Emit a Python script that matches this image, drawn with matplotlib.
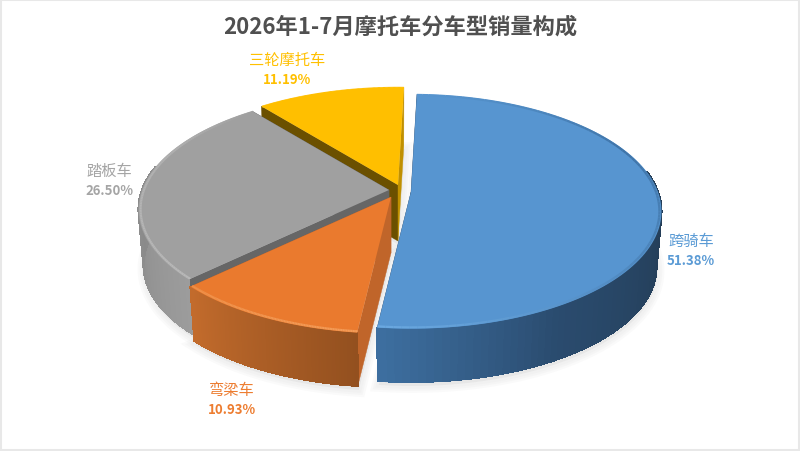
import numpy as np
import matplotlib
matplotlib.use('Agg')
import matplotlib.pyplot as plt
from matplotlib.colors import to_rgb
from matplotlib.patches import Rectangle

plt.rcParams['font.family'] = ['Noto Sans CJK SC', 'DejaVu Sans']

# dados do gráfico
categorias = ['跨骑车', '弯梁车', '踏板车', '三轮摩托车']
valores = [51.38, 10.93, 26.50, 11.19]
rotulos = ['51.38%', '10.93%', '26.50%', '11.19%']
titulo = '2026年1-7月摩托车分车型销量构成'

cores_topo = ['#5795d0', '#ea7a2e', '#a0a0a0', '#ffbf00']
cores_texto = ['#5b9bd5', '#ed7d31', '#a5a5a5', '#ffc000']

# geometria da pizza em pixels
centros = [(411, 193), (391, 198), (389, 191), (398, 186)]
pos_texto = [(691, 251), (232, 400), (109, 181), (287, 70)]
RAIO_X = 247
RAIO_Y = 114
PERSP = 0.166
PROF = 56
ESCALA_BASE = 0.98
ANGULO_INICIAL = 1.6

# paredes: inicio e fim de cada fatia, e degrade da parede externa
paredes = [('#2c4f74', '#2c4f74'), ('#c0652a', '#c0652a'),
           ('#666666', '#666666'), ('#6b5000', '#c09000')]
degrades = [
    [(0.0, '#233c55'), (0.55, '#243e58'), (0.80, '#2a4b6e'), (1.0, '#3d6e9f')],
    [(0.0, '#93501f'), (1.0, '#c26b2c')],
    [(0.0, '#9c9c9c'), (0.45, '#8a8a8a'), (1.0, '#a0a0a0')],
    [(0.0, '#c09000'), (1.0, '#c09000')],
]
bordas = [
    [(0.0, '#5795d0'), (0.15, '#4f8ac2'), (0.35, '#3f74a8'), (0.65, '#4d86bd'), (1.0, '#6aa8e0')],
    [(0.0, '#f49c58'), (1.0, '#f0914a')],
    [(0.0, '#b8b8b8'), (0.7, '#b0b0b0'), (1.0, '#a0a0a0')],
    [(0.0, '#ffbf00'), (1.0, '#ffbf00')],
]


# Função que projeta um ponto do disco na tela
def projetar(centro, ang, raio=1.0, base=False):
    u = raio * np.sin(np.radians(ang))
    v = raio * np.cos(np.radians(ang))
    esc = ESCALA_BASE if base else 1.0
    d = PROF if base else 0
    x = centro[0] + esc * RAIO_X * u / (1 + PERSP * v)
    y = centro[1] + d - esc * RAIO_Y * v / (1 + PERSP * v)
    return x, y


# Função para interpolar cor num degrade
def cor_em(degrade, t):
    pos = [p for p, _ in degrade]
    rgb = np.array([to_rgb(c) for _, c in degrade])
    return tuple(np.interp(t, pos, rgb[:, i]) for i in range(3))


fig = plt.figure(figsize=(8, 4.52), dpi=100)
ax = fig.add_axes([0, 0, 1, 1])
ax.set_xlim(0, 800)
ax.set_ylim(452, 0)
ax.axis('off')

# moldura cinza clara da imagem
ax.add_patch(Rectangle((0.8, 0.8), 798, 450, facecolor='none', edgecolor='#e8e8e8', lw=1.5, zorder=0))

# calcula os angulos a partir dos valores
total = sum(valores)
angulos = [ANGULO_INICIAL]
for v in valores:
    angulos.append(angulos[-1] + v / total * 360)

# sombra suave em volta da pizza
for i, c in enumerate(centros):
    a = np.linspace(angulos[i], angulos[i + 1], 80)
    xb, yb = projetar(c, a, base=True)
    xs = np.r_[c[0], xb] + 1
    ys = np.r_[c[1] + PROF, yb] + 4
    for lw in [10, 7, 4]:
        ax.fill(xs, ys, facecolor='#d8d8d8', edgecolor='#d8d8d8', lw=lw, alpha=0.12, zorder=1)

# desenha de tras para frente
ordem = [3, 2, 1, 0]
z = 2
for i in ordem:
    c = centros[i]
    a0, a1 = angulos[i], angulos[i + 1]
    for ang, cor in zip((a0, a1), paredes[i]):
        x1, y1 = projetar(c, ang)
        x2, y2 = projetar(c, ang, base=True)
        ax.fill([c[0], x1, x2, c[0]], [c[1], y1, y2, c[1] + PROF],
                facecolor=cor, edgecolor=cor, lw=0.3, zorder=z)
    z += 1

    # parede externa, so a parte da frente aparece
    a = np.linspace(a0, a1, 120)
    for j in range(len(a) - 1):
        if np.cos(np.radians(a[j])) > 0.2:
            continue
        t = j / (len(a) - 2)
        cor = cor_em(degrades[i], t)
        xt, yt = projetar(c, a[j:j + 2])
        xb, yb = projetar(c, a[j:j + 2], base=True)
        ax.fill(np.r_[xt, xb[::-1]], np.r_[yt, yb[::-1]],
                facecolor=cor, edgecolor=cor, lw=0.8, antialiased=False, zorder=z)
        # suaviza a borda de baixo da parede
        ax.plot(xb, yb, color=cor, lw=1.0, zorder=z)
    z += 1

    # tampo da fatia
    xt, yt = projetar(c, a)
    ax.fill(np.r_[c[0], xt], np.r_[c[1], yt], facecolor=cores_topo[i], edgecolor='none', zorder=z)
    z += 1

    # borda clara do tampo
    for j in range(len(a) - 1):
        t = j / (len(a) - 2)
        xt, yt = projetar(c, a[j:j + 2], raio=0.992)
        ax.plot(xt, yt, color=cor_em(bordas[i], t), lw=1.6, solid_capstyle='butt', zorder=z)
    z += 1

# rotulos
for nome, rot, cor, (x, y) in zip(categorias, rotulos, cores_texto, pos_texto):
    ax.text(x, y - 10, nome, color=cor, fontsize=11, ha='center', va='center', fontweight='medium')
    ax.text(x, y + 10, rot, color=cor, fontsize=9.5, ha='center', va='center', fontweight='bold')

ax.text(400, 27, titulo, color='#505050', fontsize=16, ha='center', va='center', fontweight='bold')

fig.savefig('out.png', dpi=100)
